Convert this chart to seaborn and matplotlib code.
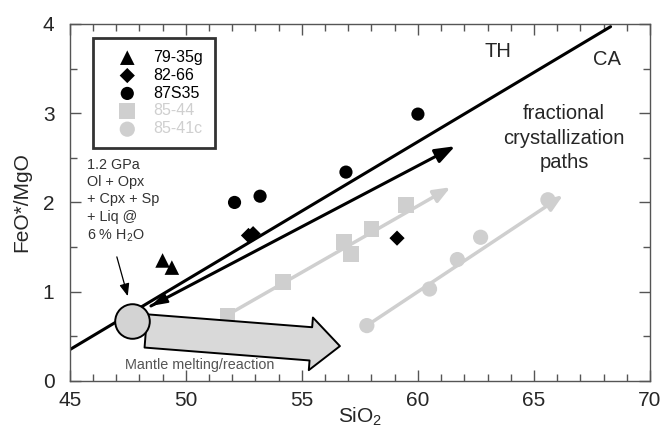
import matplotlib.pyplot as plt
import numpy as np
import pandas as pd
import seaborn as sns
from matplotlib.ticker import MultipleLocator

sns.set_style("ticks")
plt.rcParams["font.family"] = ["Liberation Sans", "DejaVu Sans"]
plt.rcParams["mathtext.fontset"] = "custom"
plt.rcParams["mathtext.rm"] = "Liberation Sans"
plt.rcParams["mathtext.it"] = "Liberation Sans:italic"

# --- sample data (SiO2 wt%, FeO*/MgO) ---
s79_35g_sio2 = [49.0, 49.4]
s79_35g_ratio = [1.35, 1.27]
s82_66_sio2 = [52.7, 52.9, 59.1]
s82_66_ratio = [1.63, 1.65, 1.60]
s87s35_sio2 = [52.1, 53.2, 56.9, 60.0]
s87s35_ratio = [2.00, 2.07, 2.34, 2.99]
s85_44_sio2 = [51.8, 54.2, 56.8, 57.1, 58.0, 59.5]
s85_44_ratio = [0.73, 1.11, 1.56, 1.42, 1.70, 1.97]
s85_41c_sio2 = [57.8, 60.5, 61.7, 62.7, 65.6]
s85_41c_ratio = [0.62, 1.03, 1.36, 1.61, 2.03]

# fractional crystallization paths (start, end)
path_85_44 = [(51.6, 0.71), (61.4, 2.17)]
path_85_41c = [(57.8, 0.62), (66.25, 2.08)]
path_black = [(48.5, 0.84), (61.6, 2.63)]

# TH / CA dividing line
thca_sio2 = [45.0, 68.3]
thca_ratio = [0.35, 3.97]

# experimental melt (1.2 GPa) and mantle melting arrow
melt_sio2 = [47.67]
melt_ratio = [0.67]
mantle_arrow = [(48.28, 0.56), (56.64, 0.39)]

LIGHT = "#cfcfcf"
FRAME = "#555555"


def main():
    fig, ax = plt.subplots(figsize=(6.64, 4.28), dpi=100)
    fig.subplots_adjust(left=0.105, right=0.979, top=0.944, bottom=0.110)

    # dividing line
    sns.lineplot(x=thca_sio2, y=thca_ratio, ax=ax, color="black", lw=2.2, zorder=2)

    # grey paths with arrows
    for (x0, y0), (x1, y1) in [path_85_44, path_85_41c]:
        ax.annotate("", xy=(x1, y1), xytext=(x0, y0),
                    arrowprops=dict(arrowstyle="-|>,head_length=0.5,head_width=0.2",
                                    mutation_scale=20, color=LIGHT, lw=2.5,
                                    shrinkA=0, shrinkB=0), zorder=1)

    # black double arrow
    (x0, y0), (x1, y1) = path_black
    ax.annotate("", xy=(x1, y1), xytext=(x0, y0),
                arrowprops=dict(arrowstyle="-|>,head_length=0.6,head_width=0.22",
                                mutation_scale=20, color="black", lw=2.2,
                                shrinkA=0, shrinkB=0), zorder=2)
    ax.annotate("", xy=(x0, y0), xytext=(x0 + 0.6, y0 + 0.082),
                arrowprops=dict(arrowstyle="-|>,head_length=0.5,head_width=0.16",
                                mutation_scale=20, color="black", lw=1.5,
                                shrinkA=0, shrinkB=0), zorder=2)

    # samples
    sns.scatterplot(x=s79_35g_sio2, y=s79_35g_ratio, ax=ax, marker="^", s=110,
                    color="black", edgecolor="none", label="79-35g", zorder=3)
    sns.scatterplot(x=s82_66_sio2, y=s82_66_ratio, ax=ax, marker="D", s=60,
                    color="black", edgecolor="none", label="82-66", zorder=3)
    sns.scatterplot(x=s87s35_sio2, y=s87s35_ratio, ax=ax, marker="o", s=90,
                    color="black", edgecolor="none", label="87S35", zorder=3)
    sns.scatterplot(x=s85_44_sio2, y=s85_44_ratio, ax=ax, marker="s", s=130,
                    color=LIGHT, edgecolor="none", label="85-44", zorder=3)
    sns.scatterplot(x=s85_41c_sio2, y=s85_41c_ratio, ax=ax, marker="o", s=120,
                    color=LIGHT, edgecolor="none", label="85-41c", zorder=3)

    # mantle melting arrow + experimental melt
    (x0, y0), (x1, y1) = mantle_arrow
    ax.annotate("", xy=(x1, y1), xytext=(x0, y0),
                arrowprops=dict(arrowstyle="simple,head_length=1.05,head_width=1.9,tail_width=1.2",
                                mutation_scale=20, fc="#d9d9d9", ec="black", lw=1.4,
                                shrinkA=0, shrinkB=0), zorder=4)
    ax.scatter(melt_sio2, melt_ratio, s=620, fc="#d3d3d3", ec="black", lw=1.4, zorder=5)

    # texts
    ax.text(50.6, 0.18, "Mantle melting/reaction", fontsize=10.4, color="#555555",
            ha="center", va="center")
    ax.text(45.73, 2.5, "1.2 GPa\nOl + Opx\n+ Cpx + Sp\n+ Liq @\n6 % H$_2$O",
            fontsize=10.4, color="#333333", ha="left", va="top", linespacing=1.3)
    ax.annotate("", xy=(47.5, 0.95), xytext=(47.03, 1.39),
                arrowprops=dict(arrowstyle="-|>,head_length=0.5,head_width=0.2",
                                mutation_scale=15, color="black", lw=0.9,
                                shrinkA=0, shrinkB=0))
    ax.text(63.45, 3.69, "TH", fontsize=14.5, ha="center", va="center")
    ax.text(68.15, 3.6, "CA", fontsize=14.5, ha="center", va="center")
    ax.text(66.3, 2.72, "fractional\ncrystallization\npaths", fontsize=14.5,
            ha="center", va="center", linespacing=1.35)

    # axes
    ax.set_xlim(45, 70)
    ax.set_ylim(0, 4)
    ax.xaxis.set_major_locator(MultipleLocator(5))
    ax.xaxis.set_minor_locator(MultipleLocator(1))
    ax.yaxis.set_major_locator(MultipleLocator(1))
    ax.yaxis.set_minor_locator(MultipleLocator(0.5))
    ax.tick_params(which="both", direction="in", top=True, right=True,
                   color=FRAME, width=1.0)
    ax.tick_params(which="major", length=8, labelsize=15)
    ax.tick_params(which="minor", length=5)
    ax.tick_params(axis="y", which="major", pad=11)
    ax.tick_params(axis="x", which="major", pad=7)
    for sp in ax.spines.values():
        sp.set_color(FRAME)
        sp.set_linewidth(1.0)
    ax.set_xlabel("SiO$_2$", fontsize=15, labelpad=-3)
    ax.set_ylabel("FeO*/MgO", fontsize=15, labelpad=8)

    leg = ax.legend(loc="upper left", bbox_to_anchor=(0.04, 0.961), borderaxespad=0,
                    fontsize=11.5, frameon=True, fancybox=False, edgecolor="black",
                    handletextpad=0.2, labelspacing=0.18, borderpad=0.75,
                    handlelength=2.8)
    leg.get_frame().set_linewidth(2)
    for txt, col in zip(leg.get_texts(), ["black", "black", "black", LIGHT, LIGHT]):
        txt.set_color(col)

    fig.savefig("out.png", dpi=100)
    plt.close(fig)


if __name__ == "__main__":
    main()
